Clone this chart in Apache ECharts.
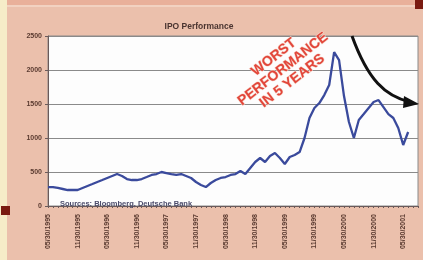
<!DOCTYPE html>
<html><head><meta charset="utf-8">
<script src="https://cdn.jsdelivr.net/npm/echarts@6/dist/echarts.min.js"></script>
<style>html,body{margin:0;padding:0;background:#eabba6}#c{width:423px;height:260px}</style>
</head><body><div id="c"></div>
<script>
// Monthly categories (labels every 6 months)
const months = ['01','02','03','04','05','06','07','08','09','10','11','12'];
const categories = [];
for (let y = 1995; y <= 2001; y++) {
  for (const m of months) {
    categories.push(m + '/30/' + y);
  }
}
const cats = categories.slice(4, 80); // 05/1995 .. 08/2001
const ipoIndex = [279,279,265,250,235,235,235,265,294,323,353,382,412,441,470,441,397,382,382,397,426,456,470,500,485,470,456,470,441,412,353,309,279,338,382,412,426,456,470,515,470,559,647,706,647,735,779,706,618,720,750,794,1000,1294,1441,1514,1632,1779,2264,2146,1617,1235,1000,1264,1352,1441,1529,1558,1455,1352,1294,1147,897,1088];
const yTicks = [0,500,1000,1500,2000,2500];

const chart = echarts.init(document.getElementById('c'));
chart.setOption({
  backgroundColor: '#ebc0ac',
  animation: false,
  title: [{
    text: 'IPO Performance', left: 194, top: 17, textAlign: 'center',
    textStyle: {fontSize: 8.5, fontWeight: 'bold', color: '#4a3430', fontFamily: 'Liberation Sans'}
  }, {
    text: 'Sources: Bloomberg, Deutsche Bank', left: 55, top: 195,
    textStyle: {fontSize: 7.5, fontWeight: 'bold', color: '#4a4a6a', fontFamily: 'Liberation Sans'}
  }],
  grid: {left: 48, right: 5, top: 36, bottom: 54, show: true, backgroundColor: '#fdfdfd', borderColor: '#8a8a8a', borderWidth: 1},
  xAxis: {
    type: 'category', data: cats, boundaryGap: false,
    axisLine: {lineStyle: {color: '#6a5a5a', width: 1}},
    axisTick: {interval: 0, length: 2, lineStyle: {color: '#6a5a5a'}},
    axisLabel: {interval: 5, rotate: 90, fontSize: 7, color: '#5a3a30', margin: 8, fontFamily: 'Liberation Sans', fontWeight: 'bold'},
    splitLine: {show: false}
  },
  yAxis: {
    type: 'value', min: 0, max: 2500, interval: 500,
    axisLine: {show: true, lineStyle: {color: '#6a5a5a'}},
    axisTick: {show: true, length: 3, lineStyle: {color: '#6a5a5a'}},
    axisLabel: {fontSize: 7, color: '#5a3a30', margin: 6, fontFamily: 'Liberation Sans', fontWeight: 'bold',
      formatter: v => String(v)},
    splitLine: {lineStyle: {color: '#8a8a8a', width: 1.2}}
  },
  series: [{
    type: 'line', data: ipoIndex, symbol: 'none', smooth: false,
    lineStyle: {color: '#3a4a9c', width: 2.3}
  }],
  graphic: [
    {type: 'rect', shape: {x: 0, y: 0, width: 7, height: 260}, style: {fill: '#f6ecc8'}, z: 100},
    {type: 'rect', shape: {x: 7, y: 0, width: 416, height: 5}, style: {fill: '#e9b09a'}, z: 100},
    {type: 'line', shape: {x1: 7, y1: 6, x2: 423, y2: 6}, style: {stroke: '#f4d8c8', lineWidth: 1.5}, z: 100},
    {type: 'rect', shape: {x: 415, y: 0, width: 8, height: 9}, style: {fill: '#7a1a10'}, z: 101},
    {type: 'rect', shape: {x: 1, y: 206, width: 9, height: 9}, style: {fill: '#7a1a10'}, z: 101},
    {type: 'bezierCurve', shape: {x1: 352, y1: 36, cpx1: 368, cpy1: 80, cpx2: 385, cpy2: 96, x2: 410, y2: 102},
      style: {stroke: '#111', lineWidth: 3, fill: null}, z: 50},
    {type: 'polygon', shape: {points: [[404, 96], [419, 104], [403, 108]]}, style: {fill: '#111'}, z: 50},
    {type: 'text', x: 283, y: 69, rotation: 0.66, z: 60,
      style: {text: 'WORST\nPERFORMANCE\nIN 5 YEARS', fill: '#e2463a', stroke: '#f6d4c8', lineWidth: 1,
        font: 'bold 14px "Liberation Sans"', align: 'center', verticalAlign: 'middle', lineHeight: 15}}
  ]
});
</script></body></html>
